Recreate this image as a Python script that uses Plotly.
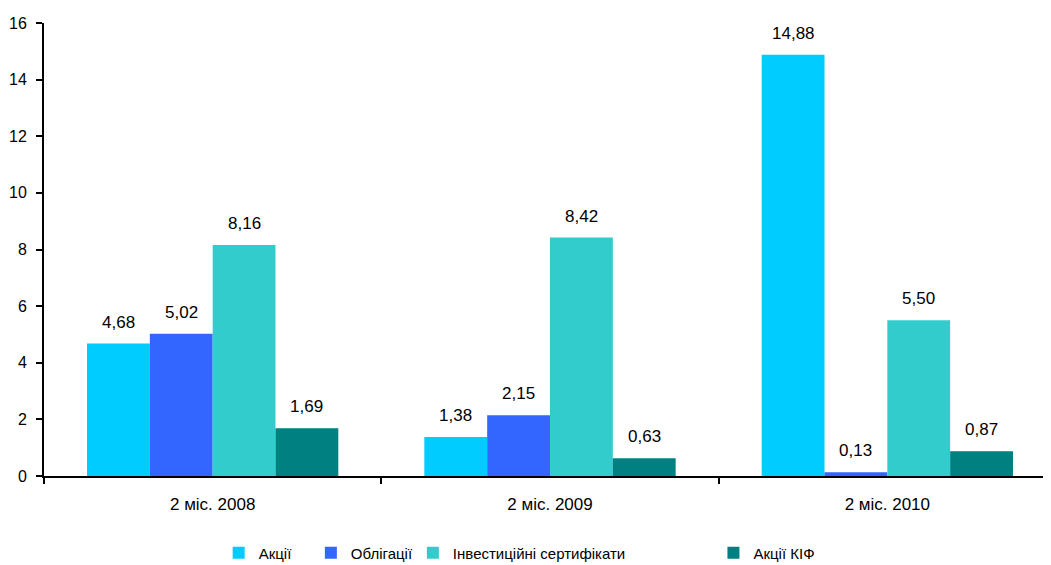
import plotly.graph_objects as go

categories = ["2 міс. 2008", "2 міс. 2009", "2 міс. 2010"]
series_names = ["Акції", "Облігації", "Інвестиційні сертифікати", "Акції КІФ"]
akcii = [4.68, 1.38, 14.88]
oblihatsii = [5.02, 2.15, 0.13]
invest_cert = [8.16, 8.42, 5.50]
akcii_kif = [1.69, 0.63, 0.87]
colors = ["#00CCFF", "#3366FF", "#33CCCC", "#008080"]
y_ticks = [0, 2, 4, 6, 8, 10, 12, 14, 16]
legend_x = [0.1726, 0.2637, 0.3645, 0.6615]

FONT = "Liberation Sans, Arial, sans-serif"
BARGAP = 0.255
all_series = [akcii, oblihatsii, invest_cert, akcii_kif]
n = len(all_series)
bar_w = (1 - BARGAP) / n

fig = go.Figure()
annotations = []
for i, (name, vals, col) in enumerate(zip(series_names, all_series, colors)):
    lg = "legend" if i == 0 else f"legend{i+1}"
    fig.add_trace(go.Bar(
        x=categories, y=vals, name=name, marker=dict(color=col, line=dict(width=0)),
        legend=lg,
    ))
    off = (i - (n - 1) / 2) * bar_w
    for j, v in enumerate(vals):
        annotations.append(dict(
            x=j + off, y=v, xref="x", yref="y", text=f"{v:.2f}".replace(".", ","),
            showarrow=False, yanchor="bottom", xanchor="center", yshift=10,
            font=dict(family=FONT, size=17, color="#000000"),
        ))

layout_legends = {}
for i in range(n):
    key = "legend" if i == 0 else f"legend{i+1}"
    layout_legends[key] = dict(
        x=legend_x[i], xanchor="left", y=-0.17, yanchor="middle",
        orientation="h", font=dict(family=FONT, size=15, color="#000000"),
        bgcolor="rgba(0,0,0,0)",
    )

fig.update_layout(
    width=1051, height=565,
    paper_bgcolor="white", plot_bgcolor="white",
    barmode="group", bargap=BARGAP, bargroupgap=0,
    margin=dict(l=36, r=3, t=15, b=97, autoexpand=False),
    font=dict(family=FONT, size=16, color="#000000"),
    showlegend=True,
    annotations=annotations,
    **layout_legends,
)
fig.update_xaxes(
    type="category", showline=True, linecolor="#000000", linewidth=2,
    ticks="outside", tickson="boundaries", ticklen=6, tickwidth=2, tickcolor="#000000",
    showgrid=False, tickfont=dict(family=FONT, size=17), automargin=False,
    ticklabelstandoff=12,
)
fig.update_yaxes(
    range=[0, 16], tickvals=y_ticks, showline=True, linecolor="#000000", linewidth=2,
    ticks="outside", ticklen=6, tickwidth=2, tickcolor="#000000",
    showgrid=False, zeroline=False, tickfont=dict(family=FONT, size=16), automargin=False,
    ticklabelstandoff=6,
)
fig.write_html("out.html")
